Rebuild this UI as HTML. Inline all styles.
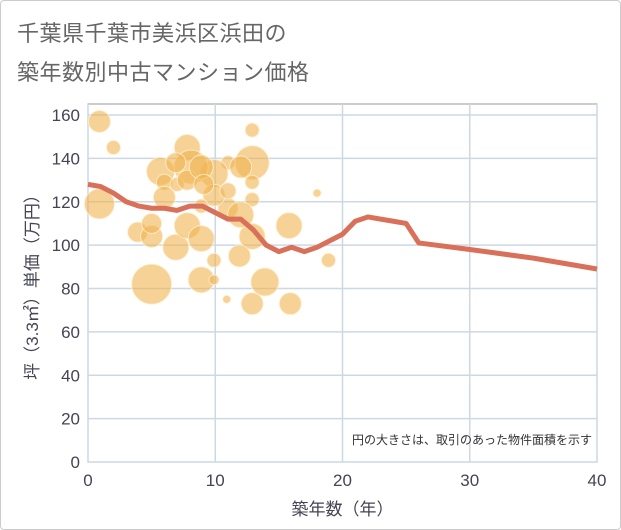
<!DOCTYPE html>
<html><head><meta charset="utf-8"><style>
body{margin:0;background:#fff;font-family:"Liberation Sans","Noto Sans CJK JP",sans-serif;}
#wrap{position:relative;width:619px;height:528px;border:1px solid #ccc;border-radius:4px;overflow:hidden;}
.title{position:absolute;left:16px;font-size:22px;color:#666;letter-spacing:0.5px;}
</style></head><body>
<div id="wrap">
<div class="title" style="top:15px">千葉県千葉市美浜区浜田の</div>
<div class="title" style="top:54px">築年数別中古マンション価格</div>
<svg id="chart" width="621" height="530" style="position:absolute;left:0;top:0"></svg>
</div>
<script>
const xTicks=[0,10,20,30,40];
const yTicks=[0,20,40,60,80,100,120,140,160];
const bubbleX=[0.9,2,0.9,5,3.9,5,5,6.9,7.8,8.9,9.9,8.9,9.9,10.9,12.9,13.9,15.9,15.8,18.9,18,12.9,12.9,12.9,12.9,12.9,11.9,11,12,11,12,9.9,9.9,11,7.8,8.1,5.7,6.9,6,7,6,7.8,8.9,8.9,9.1];
const bubbleY=[157,145,119,82,106,104,110,99,109,103,93,84,84,75,73,83,73,109,93,124,153,138,129,121,104,95,138,136,117,114,133,123,125,145,136,134,138,129,128,122,130,136,118,128];
const bubbleR=[11,7,15,20,10,11,10,13,13,13,7,13,5,4,11,14,11,13,7,4,7,17,7,7,13,11,7,11,10,13,14,11,8,13,17,14,10,8,7,11,10,12,7,10];
const lineX=[0,1,2,3,4,5,6,7,8,9,10,11,12,13,14,15,16,17,18,19,20,21,22,23,24,25,26,30,35,40];
const lineY=[128,127,124,120,118,117,117,116,118,118,115,112,112,107,100,97,99,97,99,102,105,111,113,112,111,110,101,98,94,89];
const L=87,R=596,T=103,B=461;
const sx=v=>L+(v-0)/40*(R-L);
const sy=v=>B-v/160*(B-114);
const svg=document.getElementById('chart');
const NS='http://www.w3.org/2000/svg';
function mk(t,a){const e=document.createElementNS(NS,t);for(const k in a)e.setAttribute(k,a[k]);svg.appendChild(e);return e;}
const bg=mk('rect',{x:L,y:T,width:R-L,height:B-T,fill:'#fff',stroke:'#999','stroke-width':1});


yTicks.forEach(v=>{
 const g=mk('line',{x1:L,x2:R,y1:sy(v),y2:sy(v),stroke:'#ccd8e4','stroke-width':1.5});
 
 
 const t=mk('text',{x:L-8,y:sy(v)+6,'text-anchor':'end','font-size':17,fill:'#445'});
 t.textContent=v;
 
 
});
xTicks.forEach(v=>{
 const g=mk('line',{x1:sx(v),x2:sx(v),y1:T,y2:B,stroke:'#ccd8e4','stroke-width':1.5});
 
 
 const t=mk('text',{x:sx(v),y:B+24,'text-anchor':'middle','font-size':17,fill:'#445'});
 t.textContent=v;
 
 
});
bubbleX.forEach((x,i)=>{
 const c=mk('circle',{cx:sx(x),cy:sy(bubbleY[i]),r:bubbleR[i],fill:'rgba(240,180,80,0.6)',stroke:'rgba(255,240,210,0.8)','stroke-width':1});
 
 
});
const p=mk('polyline',{points:lineX.map((x,i)=>sx(x)+','+sy(lineY[i])).join(' '),fill:'none',stroke:'#d9705a','stroke-width':5,'stroke-linejoin':'round'});


const n=mk('text',{x:591,y:443,'text-anchor':'end','font-size':12,fill:'#333'});
n.textContent='円の大きさは、取引のあった物件面積を示す';


const xl=mk('text',{x:sx(20),y:514,'text-anchor':'middle','font-size':17,fill:'#445'});
xl.textContent='築年数（年）';


const yl=mk('text',{x:0,y:0,'text-anchor':'middle','font-size':17,fill:'#445',transform:'translate(37,'+((T+B)/2)+') rotate(-90)'});
yl.textContent='坪（3.3㎡）単価（万円）';


</script>
</body></html>
